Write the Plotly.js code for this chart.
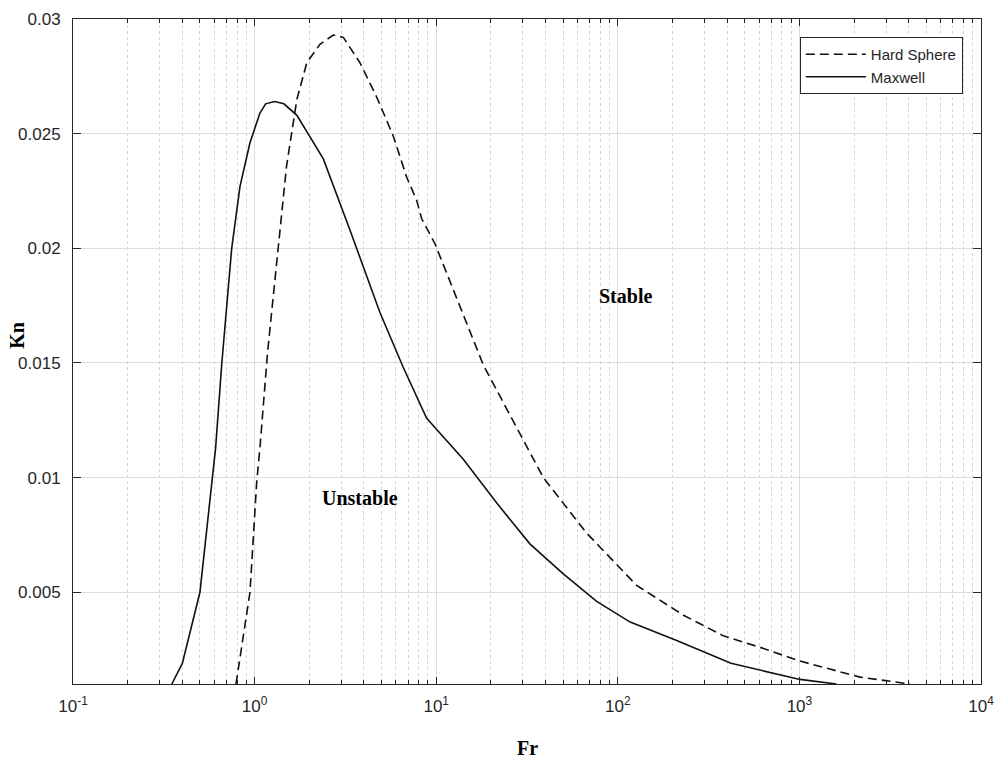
<!DOCTYPE html>
<html>
<head>
<meta charset="utf-8">
<script src="https://cdn.plot.ly/plotly-3.0.1.min.js"></script>
<style>
html,body{margin:0;padding:0;background:#fff;}
#chart{width:998px;height:763px;}
</style>
</head>
<body>
<div id="chart"></div>
<script>
// Maxwell (solid)
var maxwellFr = [0.35, 0.40, 0.50, 0.58, 0.61, 0.66, 0.748, 0.831, 0.943, 1.07, 1.15, 1.29, 1.45, 1.71, 2.39, 3.35, 3.65, 4.90, 6.59, 8.85, 10.06, 14.1, 21.5, 32.9, 50.1, 76.5, 117, 211, 420, 1007, 1600];
var maxwellKn = [0.0010, 0.0019, 0.0050, 0.0098, 0.0113, 0.0150, 0.0200, 0.0227, 0.0246, 0.0259, 0.0263, 0.0264, 0.0263, 0.0258, 0.0239, 0.0208, 0.0200, 0.0172, 0.0148, 0.0126, 0.0121, 0.0108, 0.0089, 0.0071, 0.0058, 0.0046, 0.0037, 0.0029, 0.0019, 0.0012, 0.0010];

// Hard Sphere (dashed)
var hardFr = [0.79, 0.838, 0.943, 1.027, 1.07, 1.18, 1.35, 1.50, 1.71, 1.94, 2.29, 2.71, 3.08, 3.80, 4.70, 5.80, 6.88, 7.80, 8.31, 9.84, 18.2, 38.9, 67, 98.6, 127, 230, 381, 607, 1007, 2157, 4066];
var hardKn = [0.0010, 0.0024, 0.0050, 0.0098, 0.0113, 0.0155, 0.0200, 0.0236, 0.0265, 0.0281, 0.0289, 0.0293, 0.0292, 0.0281, 0.0266, 0.0249, 0.0231, 0.0221, 0.0213, 0.0202, 0.0149, 0.0100, 0.0076, 0.0062, 0.0053, 0.0040, 0.0031, 0.0026, 0.0020, 0.0013, 0.0010];

// Axis ticks
var xTickVals = [0.1, 1, 10, 100, 1000, 10000];
var xTickText = ['10<sup>-1</sup>', '10<sup>0</sup>', '10<sup>1</sup>', '10<sup>2</sup>', '10<sup>3</sup>', '10<sup>4</sup>'];
var xMinorVals = [0.2,0.3,0.4,0.5,0.6,0.7,0.8,0.9, 2,3,4,5,6,7,8,9, 20,30,40,50,60,70,80,90, 200,300,400,500,600,700,800,900, 2000,3000,4000,5000,6000,7000,8000,9000];
var yTickVals = [0.005, 0.01, 0.015, 0.02, 0.025, 0.03];
var yTickText = ['0.005', '0.01', '0.015', '0.02', '0.025', '0.03'];

// Region labels
var regionText = ['Stable', 'Unstable'];
var regionFr = [110, 3.8];
var regionKn = [0.0179, 0.0091];

var axisColor = '#262626';
var tickFont = {family: 'Liberation Sans, Arial, sans-serif', size: 17, color: axisColor};
var serifBold = {family: 'Liberation Serif, Times New Roman, serif', size: 20, color: '#000', weight: 'bold'};

var traces = [
  {x: hardFr, y: hardKn, name: 'Hard Sphere', mode: 'lines', type: 'scatter',
   line: {color: '#111', width: 1.6, dash: '9px,5px'}},
  {x: maxwellFr, y: maxwellKn, name: 'Maxwell', mode: 'lines', type: 'scatter',
   line: {color: '#111', width: 1.6}}
];

var annotations = regionText.map(function(t, i){
  return {x: Math.log10(regionFr[i]), y: regionKn[i], xref: 'x', yref: 'y', text: t,
          showarrow: false, font: serifBold, xanchor: 'center', yanchor: 'middle'};
});
annotations.push({x: 0.5, y: -0.096, xref: 'paper', yref: 'paper', text: 'Fr', showarrow: false,
  font: serifBold, xanchor: 'center', yanchor: 'middle', borderpad: 0});
annotations.push({x: -0.0617, y: 0.525, xref: 'paper', yref: 'paper', text: 'Kn', showarrow: false,
  font: serifBold, textangle: -90, xanchor: 'center', yanchor: 'middle', borderpad: 0});

var layout = {
  width: 998, height: 763,
  margin: {l: 73, r: 17, t: 19, b: 79, pad: 0},
  paper_bgcolor: '#fff', plot_bgcolor: '#fff',
  showlegend: true,
  legend: {x: 0.980, xanchor: 'right', y: 0.973, yanchor: 'top',
           bgcolor: '#fff', bordercolor: axisColor, borderwidth: 1,
           font: {family: 'Liberation Sans, Arial, sans-serif', size: 15, color: axisColor},
           itemwidth: 60, tracegroupgap: 0},
  xaxis: {type: 'log', range: [-1, 4], autorange: false,
          tickmode: 'array', tickvals: xTickVals, ticktext: xTickText,
          ticks: 'inside', ticklen: 7, tickwidth: 1, tickcolor: axisColor,
          showline: true, linecolor: axisColor, linewidth: 1, mirror: 'ticks',
          showgrid: true, gridcolor: '#dcdcdc', gridwidth: 1,
          tickfont: tickFont, ticklabelstandoff: 7, zeroline: false,
          minor: {tickmode: 'array', tickvals: xMinorVals, ticks: 'inside', ticklen: 4,
                  tickcolor: axisColor, showgrid: true, gridcolor: '#d4d4d4', griddash: 'dot', gridwidth: 1}},
  yaxis: {range: [0.001, 0.03], autorange: false,
          tickmode: 'array', tickvals: yTickVals, ticktext: yTickText,
          ticks: 'inside', ticklen: 8, tickwidth: 1, tickcolor: axisColor,
          showline: true, linecolor: axisColor, linewidth: 1, mirror: 'ticks',
          showgrid: true, gridcolor: '#dcdcdc', gridwidth: 1,
          tickfont: tickFont, ticklabelstandoff: 8, zeroline: false},
  annotations: annotations
};

Plotly.newPlot('chart', traces, layout, {staticPlot: true, displayModeBar: false});
</script>
</body>
</html>
